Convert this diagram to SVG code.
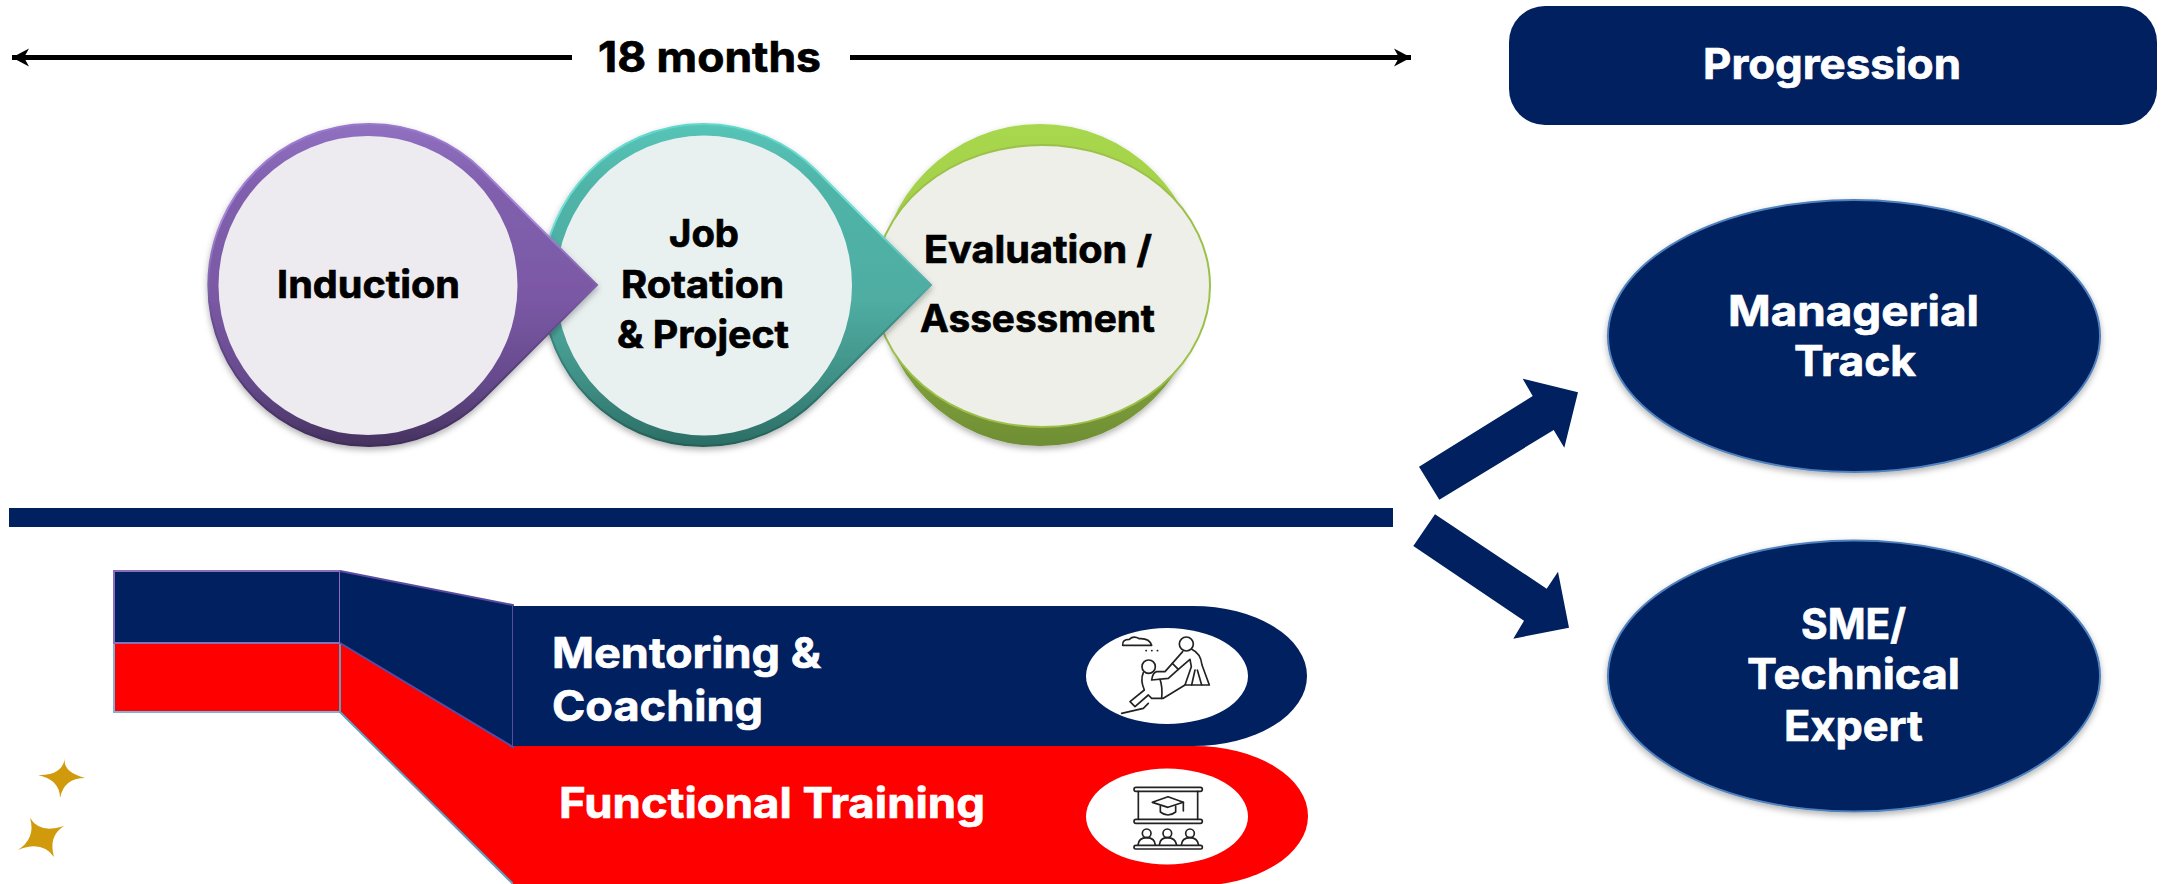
<svg xmlns="http://www.w3.org/2000/svg" width="2164" height="884" viewBox="0 0 2164 884">
<style>
text{font-family:"Inter","Liberation Sans",sans-serif;font-weight:700;fill:#000;stroke:#000;stroke-width:.7}
.w{fill:#fff;stroke:#fff}
.big{font-size:38px}
.lg{font-size:42px}
.navy{fill:#002060}
.oval{fill:#002060;stroke:#4f81bd;stroke-width:2;filter:url(#sh)}
.ic{fill:none;stroke:#222;stroke-width:5;stroke-linecap:round;stroke-linejoin:round}
.star{fill:#d19a0a;filter:url(#soft)}
</style>
<defs>
<filter id="sh" x="-10%" y="-10%" width="120%" height="125%"><feDropShadow dx="0" dy="3" stdDeviation="3" flood-color="#000" flood-opacity=".3"/></filter>
<filter id="soft" x="-20%" y="-20%" width="140%" height="140%"><feGaussianBlur stdDeviation=".6"/></filter>
<linearGradient id="p" x1="0" y1="0" x2="0" y2="1"><stop offset="0" stop-color="#9070c0"/><stop offset=".2" stop-color="#8060ae"/><stop offset=".55" stop-color="#7a58a4"/><stop offset=".8" stop-color="#654a8c"/><stop offset="1" stop-color="#46325f"/></linearGradient>
<linearGradient id="ps" x1="0" y1="0" x2="0" y2="1"><stop offset="0" stop-color="#9a78cc"/><stop offset=".3" stop-color="#a888d8"/><stop offset=".6" stop-color="#6a4e92"/><stop offset="1" stop-color="#3f2d58"/></linearGradient>
<linearGradient id="t" x1="0" y1="0" x2="0" y2="1"><stop offset="0" stop-color="#56c4b8"/><stop offset=".2" stop-color="#50b4a8"/><stop offset=".55" stop-color="#4fada2"/><stop offset=".8" stop-color="#3f8f85"/><stop offset="1" stop-color="#2b6d65"/></linearGradient>
<linearGradient id="ts" x1="0" y1="0" x2="0" y2="1"><stop offset="0" stop-color="#62d8cc"/><stop offset=".3" stop-color="#76e0d8"/><stop offset=".6" stop-color="#3f8f88"/><stop offset="1" stop-color="#265f58"/></linearGradient>
<linearGradient id="g" x1="0" y1="0" x2="0" y2="1"><stop offset="0" stop-color="#a8d84e"/><stop offset=".2" stop-color="#a4d24a"/><stop offset=".8" stop-color="#7d9e3a"/><stop offset="1" stop-color="#6f8e34"/></linearGradient>
<marker id="ah" markerUnits="userSpaceOnUse" markerWidth="18" markerHeight="20" refX="17" refY="10" orient="auto-start-reverse"><path d="M0 1L17 10L0 19L5 10Z" fill="#000"/></marker>
</defs>
<rect width="2164" height="884" fill="#fff"/>

<g id="connectors">
<line x1="12" y1="57.500" x2="572" y2="57.500" stroke="#000" stroke-width="5" marker-start="url(#ah)"/>
<line x1="850" y1="57.500" x2="1411" y2="57.500" stroke="#000" stroke-width="5" marker-end="url(#ah)"/>
<polygon class="navy" points="1419,466.7 1532.7,396 1522.7,378.7 1578,392.3 1564.3,447.7 1553.7,430 1439.3,499.7"/>
<polygon class="navy" points="1435,514.3 1546.7,588.7 1558,571.7 1569,627.7 1513.3,638.7 1524,620.7 1413.3,546"/>
</g>

<g id="evaluation">
<circle cx="1040" cy="285" r="161" fill="url(#g)" filter="url(#sh)"/>
<ellipse cx="1042" cy="286" rx="168" ry="141" fill="#eeefe8" stroke="#9cc04a" stroke-width="2"/>
<text class="big" x="924" y="263" textLength="228" lengthAdjust="spacingAndGlyphs">Evaluation /</text>
<text class="big" x="920" y="332" textLength="235" lengthAdjust="spacingAndGlyphs">Assessment</text>
</g>

<g id="job-rotation">
<path d="M931 285L817 171A161 161 0 1 0 817 399Z" fill="url(#t)" stroke="url(#ts)" stroke-width="2" filter="url(#sh)"/>
<ellipse cx="704" cy="285.500" rx="148" ry="150" fill="#e9f0f0"/>
<text class="big" x="669" y="247" textLength="70" lengthAdjust="spacingAndGlyphs">Job</text>
<text class="big" x="621" y="298" textLength="163" lengthAdjust="spacingAndGlyphs">Rotation</text>
<text class="big" x="617" y="348" textLength="172" lengthAdjust="spacingAndGlyphs">&amp; Project</text>
</g>

<g id="induction">
<path d="M597 285L483 171A161 161 0 1 0 483 399Z" fill="url(#p)" stroke="url(#ps)" stroke-width="2" filter="url(#sh)"/>
<circle cx="368" cy="285.500" r="149.500" fill="#edebf0"/>
<text class="big" x="277" y="298" textLength="183" lengthAdjust="spacingAndGlyphs">Induction</text>
</g>

<g id="duration">
<text class="lg" x="598" y="72" textLength="223" lengthAdjust="spacingAndGlyphs">18 months</text>
</g>

<g id="progression">
<rect class="navy" x="1509" y="6" width="648" height="119" rx="36"/>
<text class="lg w" x="1703" y="79" textLength="258" lengthAdjust="spacingAndGlyphs">Progression</text>
</g>

<g id="divider"><rect class="navy" x="9" y="508" width="1384" height="19"/></g>

<g id="managerial">
<ellipse class="oval" cx="1854" cy="336" rx="246" ry="136"/>
<text class="lg w" x="1728" y="326" textLength="251" lengthAdjust="spacingAndGlyphs">Managerial</text>
<text class="lg w" x="1794" y="376" textLength="122" lengthAdjust="spacingAndGlyphs">Track</text>
</g>

<g id="sme">
<ellipse class="oval" cx="1854" cy="676" rx="246" ry="135.500"/>
<text class="lg w" x="1801" y="639" textLength="105" lengthAdjust="spacingAndGlyphs">SME/</text>
<text class="lg w" x="1747" y="689" textLength="213" lengthAdjust="spacingAndGlyphs">Technical</text>
<text class="lg w" x="1784" y="741" textLength="139" lengthAdjust="spacingAndGlyphs">Expert</text>
</g>

<g id="functional-training">
<rect x="114" y="643" width="226" height="69" fill="#f00" stroke="#7fb2d4" stroke-width="2"/>
<polygon points="340,643 513,747 513,884 340,712" fill="#f00"/>
<path d="M340 643V712L513 884" fill="none" stroke="#5f9fc0" stroke-width="2"/>
<path d="M513 746H1194A114 70 0 0 1 1194 886H513Z" fill="#f00"/>
<ellipse cx="1167" cy="816.500" rx="81" ry="48" fill="#fff"/>
<g transform="translate(1050 590) scale(.33333)" class="ic">
<rect x="252" y="592" width="205" height="12" rx="6"/>
<rect x="252" y="688" width="205" height="12" rx="6"/>
<path d="M265 604V688M443 604V688"/>
<path d="M307 637L354 620L400 637L354 652Z"/>
<path d="M331 648V666Q354 684 377 666V648"/>
<path d="M400 637V663"/>
<circle cx="290" cy="730" r="13"/><circle cx="352" cy="730" r="13"/><circle cx="420" cy="730" r="13"/>
<path d="M264 765Q266 743 290 743Q314 743 316 765M328 765Q330 743 352 743Q376 743 380 765M394 765Q396 743 420 743Q442 743 446 765"/>
<rect x="252" y="766" width="205" height="11" rx="5"/>
</g>
<text class="lg w" x="559" y="818" textLength="426" lengthAdjust="spacingAndGlyphs">Functional Training</text>
</g>

<g id="mentoring">
<rect x="114" y="571" width="226" height="72" fill="#002060" stroke="#8a6fb8" stroke-width="2"/>
<polygon points="340,571 513,605 513,747 340,643" fill="#002060"/>
<path d="M340 571L513 605V747L340 643" fill="none" stroke="#5a4aa0" stroke-width="2"/>
<path d="M513 606H1193A114 70 0 0 1 1193 746H513Z" fill="#002060"/>
<ellipse cx="1167" cy="676" rx="81" ry="48" fill="#fff"/>
<g transform="translate(1110 620) scale(.33333)" class="ic">
<path d="M38 76Q36 58 58 58Q70 46 88 56Q118 54 125 76Z"/>
<path d="M108 92h1M125 92h1M142 92h1"/>
<circle cx="229" cy="72" r="21"/>
<circle cx="116" cy="140" r="20"/>
<path d="M218 95L187 130L205 148L240 118L244 140L225 195H298L276 135Q272 100 245 88"/>
<path d="M245 195L255 150M275 195L262 150"/>
<path d="M187 130L165 155H140Q128 158 125 180L175 175L205 148"/>
<path d="M100 158Q90 180 103 210L60 245L75 260L115 225L125 235H160L225 195"/>
<path d="M150 178Q158 200 155 235"/>
<path d="M35 280L100 265L115 250"/>
</g>
<text class="lg w" x="552" y="668" textLength="269" lengthAdjust="spacingAndGlyphs">Mentoring &amp;</text>
<text class="lg w" x="552" y="721" textLength="211" lengthAdjust="spacingAndGlyphs">Coaching</text>
</g>

<g id="sparkles">
<path class="star" d="M65 758Q62 772 85 778Q64 778 60 798Q60 780 38 775Q62 776 65 758Z"/>
<path class="star" d="M30 818Q40 834 64 826Q48 836 54 857Q42 840 18 850Q36 838 30 818Z"/>
</g>
</svg>
